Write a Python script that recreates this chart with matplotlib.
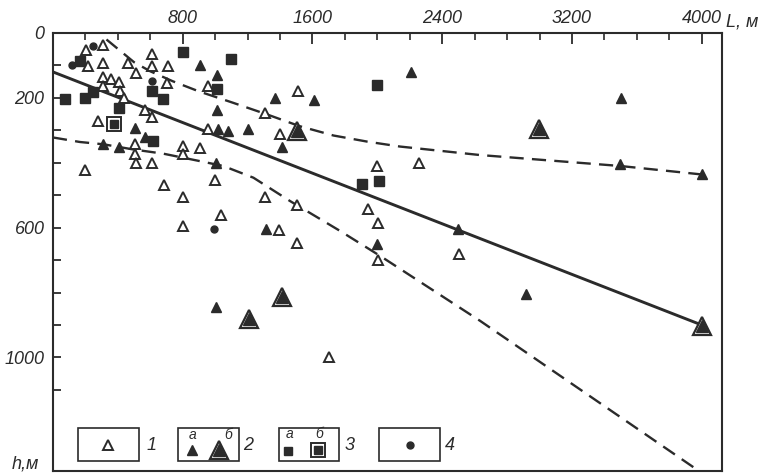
import matplotlib
matplotlib.use('Agg')
import matplotlib.pyplot as plt
from matplotlib.patches import Rectangle

plt.rcParams['font.family'] = ['Liberation Sans', 'DejaVu Sans']
plt.rcParams['font.style'] = 'italic'

# ---------------- data (L, m ; h, m) ----------------
# 1 - open triangles
t1_L = [204, 311, 611, 215, 311, 465, 512, 608, 710, 306, 358, 409, 311, 414, 438, 703,
        565, 608, 280, 509, 506, 515, 609, 198, 685, 804, 804, 804, 802, 907, 999, 1036,
        1308, 1396, 1503, 1503, 1704, 958, 955, 1305, 1402, 1509, 2001, 2254, 1944, 2002,
        2002, 2505]
t1_h = [51, 36, 64, 102, 92, 92, 122, 101, 102, 135, 142, 150, 162, 179, 200, 153,
        236, 258, 272, 343, 374, 402, 402, 423, 470, 506, 595, 349, 373, 354, 452, 562,
        506, 606, 530, 646, 1000, 164, 295, 247, 310, 178, 409, 402, 542, 585,
        701, 681]
# 2a - filled triangles
t2a_L = [907, 1010, 1010, 1020, 1078, 1203, 1367, 1610, 1411, 1006, 1314, 1006, 2205,
         3502, 3496, 4000, 2499, 2915, 1995, 311, 406, 568, 506]
t2a_h = [99, 129, 237, 295, 302, 295, 200, 205, 350, 400, 604, 846, 121,
         200, 403, 436, 604, 805, 651, 343, 352, 321, 292]
# 2b - large framed triangles
t2b_L = [1505, 2997, 4000, 1211, 1411]
t2b_h = [302, 297, 902, 882, 814]
# 3a - filled squares
t3a_L = [804, 1100, 167, 75, 198, 409, 609, 677, 1010, 619, 1996, 1903, 2012, 249]
t3a_h = [59, 81, 87, 203, 200, 231, 179, 203, 173, 333, 161, 465, 455, 182]
# 3b - framed squares
t3b_L = [374]
t3b_h = [282]
# 4 - dots
t4_L = [249, 118, 609, 996]
t4_h = [39, 99, 149, 605]

# regression line and envelope curves
trend_L = [0, 4000]
trend_h = [120, 900]
upper_L = [330, 500, 600, 740, 900, 1110, 1320, 1520, 1730, 1940, 2140, 2630, 3500, 4000]
upper_h = [20, 90, 118, 149, 180, 215, 251, 287, 316, 335, 350, 376, 410, 436]
lower_L = [0, 167, 311, 496, 681, 907, 1051, 1236, 1462, 1770, 2017, 2633, 3948]
lower_h = [322, 336, 343, 359, 372, 395, 410, 446, 518, 610, 687, 887, 1338]

x_major = [800, 1600, 2400, 3200, 4000]
x_minor = [200, 400, 600, 1000, 1200, 1400, 1800, 2000, 2200, 2600, 2800, 3000,
           3400, 3600, 3800]
y_major = [0, 200, 600, 1000]
y_minor = [100, 300, 400, 500, 700, 800, 900, 1100]

C = '#2b2b2b'

fig = plt.figure(figsize=(7.65, 4.74), dpi=100)
ax = fig.add_axes([0.0692, 0.0063, 0.8746, 0.9241])
ax.set_xlim(0, 4125)
ax.set_ylim(1350, 0)

for s in ax.spines.values():
    s.set_color(C)
    s.set_linewidth(1.5)

ax.xaxis.set_ticks_position('top')
ax.set_xticks(x_major)
ax.set_xticklabels([str(v) for v in x_major])
ax.set_xticks(x_minor, minor=True)
ax.set_yticks(y_major)
ax.set_yticklabels([str(v) for v in y_major])
ax.set_yticks(y_minor, minor=True)
ax.tick_params(axis='x', which='major', direction='in', length=8, width=1.3,
               pad=4, labelsize=13, colors=C)
ax.tick_params(axis='x', which='minor', direction='in', length=5, width=1.2, colors=C)
ax.tick_params(axis='y', which='both', direction='in', length=6, width=1.3,
               pad=6, labelsize=13, colors=C)

# lines
ax.plot(trend_L, trend_h, color=C, lw=2.1, zorder=2)
ax.plot(upper_L, upper_h, color=C, lw=1.7, ls=(0, (6, 3.5)), zorder=2)
ax.plot(lower_L, lower_h, color=C, lw=1.7, ls=(0, (6, 3.5)), zorder=2)

# points
ax.plot(t1_L, t1_h, ls='none', marker='^', ms=7.5, mfc='white', mec=C, mew=1.4, zorder=3)
ax.plot(t2a_L, t2a_h, ls='none', marker='^', ms=7, mfc=C, mec=C, mew=1, zorder=3)
ax.plot(t2b_L, t2b_h, ls='none', marker='^', ms=13.5, mfc='white', mec=C, mew=1.6, zorder=3)
ax.plot(t2b_L, t2b_h, ls='none', marker='^', ms=8, mfc=C, mec=C, mew=1, zorder=4)
ax.plot(t3a_L, t3a_h, ls='none', marker='s', ms=6.5, mfc=C, mec=C, zorder=3)
ax.plot(t3b_L, t3b_h, ls='none', marker='s', ms=10, mfc='white', mec=C, mew=1.4, zorder=3)
ax.plot(t3b_L, t3b_h, ls='none', marker='s', ms=5.5, mfc=C, mec=C, zorder=4)
ax.plot(t4_L, t4_h, ls='none', marker='o', ms=5, mfc=C, mec=C, zorder=3)

# axis unit labels
fig.text(726 / 765, 1 - 22 / 474, 'L, м', ha='left', va='center', fontsize=13, color=C)
fig.text(12 / 765, 1 - 464 / 474, 'h,м', ha='left', va='center', fontsize=13, color=C)

# legend boxes
T = ax.transAxes
boxes = [(0.038, 0.129), (0.1874, 0.2786), (0.3384, 0.4280), (0.4878, 0.5785)]
for x0, x1 in boxes:
    ax.add_patch(Rectangle((x0, 0.0228), x1 - x0, 0.0761, transform=T, fill=False,
                           ec=C, lw=1.2, zorder=5))
for lab, xx in zip(['1', '2', '3', '4'], [0.1476, 0.292, 0.443, 0.5935]):
    ax.text(xx, 0.059, lab, transform=T, ha='center', va='center', fontsize=13, color=C)
ax.plot([0.0828], [0.059], transform=T, marker='^', ms=7.5, mfc='white', mec=C, mew=1.4, clip_on=False)
ax.plot([0.2074], [0.047], transform=T, marker='^', ms=7, mfc=C, mec=C, clip_on=False)
ax.plot([0.2487], [0.049], transform=T, marker='^', ms=13.5, mfc='white', mec=C, mew=1.6, clip_on=False)
ax.plot([0.2487], [0.049], transform=T, marker='^', ms=8, mfc=C, mec=C, clip_on=False)
ax.plot([0.3518], [0.045], transform=T, marker='s', ms=6, mfc=C, mec=C, clip_on=False)
ax.plot([0.3967], [0.047], transform=T, marker='s', ms=10, mfc='white', mec=C, mew=1.4, clip_on=False)
ax.plot([0.3967], [0.047], transform=T, marker='s', ms=5.5, mfc=C, mec=C, clip_on=False)
ax.plot([0.5337], [0.059], transform=T, marker='o', ms=5, mfc=C, mec=C, clip_on=False)
for lab, xx, yy in [('а', 0.2083, 0.082), ('б', 0.2612, 0.082), ('а', 0.3533, 0.084), ('б', 0.398, 0.084)]:
    ax.text(xx, yy, lab, transform=T, ha='center', va='center', fontsize=10, color=C)

fig.savefig('out.png', dpi=100, facecolor='white')
